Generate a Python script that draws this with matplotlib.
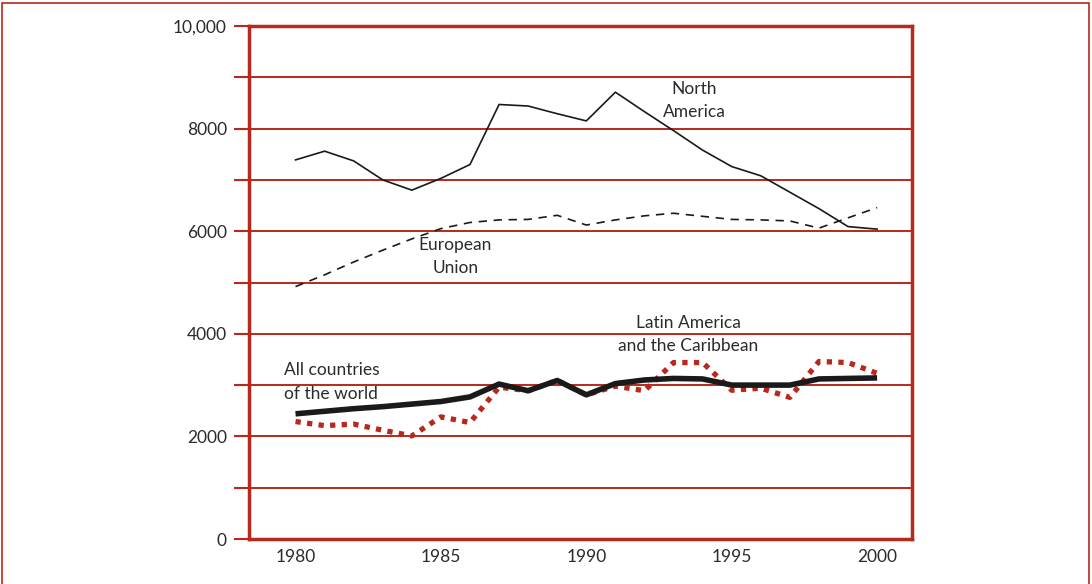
import matplotlib.pyplot as plt
from matplotlib.patches import Rectangle
from matplotlib.ticker import MultipleLocator, FixedLocator

plt.rcParams['font.family'] = ['Lato', 'DejaVu Sans']

years = list(range(1980, 2001))

north_america = [7390, 7560, 7370, 7000, 6800, 7030, 7300, 8470, 8440, 8290, 8150,
                 8710, 8330, 7960, 7580, 7260, 7080, 6760, 6440, 6090, 6040]
european_union = [4920, 5150, 5400, 5630, 5850, 6050, 6170, 6220, 6230, 6310, 6120,
                  6220, 6300, 6350, 6290, 6230, 6220, 6200, 6060, 6260, 6460]
all_countries = [2440, 2490, 2540, 2580, 2630, 2680, 2770, 3020, 2890, 3090, 2810,
                 3030, 3100, 3130, 3120, 3000, 3000, 3000, 3120, 3130, 3140]
latin_america = [2290, 2210, 2240, 2120, 2010, 2380, 2270, 2960, 2890, 3090, 2810,
                 2980, 2890, 3440, 3440, 2900, 2940, 2760, 3460, 3440, 3230]

red = '#b8281c'
text_col = '#2b2b2b'

fig = plt.figure(figsize=(10.92, 5.84), dpi=100)
ax = fig.add_axes([249 / 1092, 45 / 584, 663 / 1092, 513 / 584])

ax.plot(years, north_america, color='#1a1a1a', lw=1.2)
ax.plot(years, european_union, color='#1a1a1a', lw=1.2, ls=(0, (5, 4)))
ax.plot(years, latin_america, color=red, lw=3.8, ls=(0, (1, 1.2)))
ax.plot(years, all_countries, color='#1a1a1a', lw=4, solid_capstyle='butt')

ax.set_xlim(1978.4, 2001.2)
ax.set_ylim(0, 10000)

ax.yaxis.set_major_locator(FixedLocator([0, 2000, 4000, 6000, 8000, 10000]))
ax.yaxis.set_minor_locator(MultipleLocator(1000))
ax.set_yticklabels(['0', '2000', '4000', '6000', '8000', '10,000'])
ax.set_xticks([1980, 1985, 1990, 1995, 2000])
ax.set_xticklabels(['1980', '1985', '1990', '1995', '2000'])
ax.tick_params(axis='y', which='both', direction='out', length=11, width=1.5,
               color=red, labelsize=12.5, labelcolor=text_col, pad=5)
ax.tick_params(axis='x', length=0, labelsize=12.5, labelcolor=text_col, pad=7)

for v in range(1000, 10000, 1000):
    ax.axhline(v, color=red, lw=1.4, zorder=0)

for s in ax.spines.values():
    s.set_color(red)
    s.set_linewidth(2.5)

ax.text(1993.7, 8540, 'North\nAmerica', ha='center', va='center',
        fontsize=12.5, color=text_col, linespacing=1.55)
ax.text(1985.5, 5500, 'European\nUnion', ha='center', va='center',
        fontsize=12.5, color=text_col, linespacing=1.55)
ax.text(1993.5, 3980, 'Latin America\nand the Caribbean', ha='center', va='center',
        fontsize=12.5, color=text_col, linespacing=1.55)
ax.text(1979.6, 3060, 'All countries\nof the world', ha='left', va='center',
        fontsize=12.5, color=text_col, linespacing=1.55)

fig.patches.append(Rectangle((2 / 1092, -0.1), 1087 / 1092, 1.1 - 3 / 584,
                             transform=fig.transFigure, fill=False,
                             edgecolor=red, lw=1.2))

fig.savefig('out.png', dpi=100)
